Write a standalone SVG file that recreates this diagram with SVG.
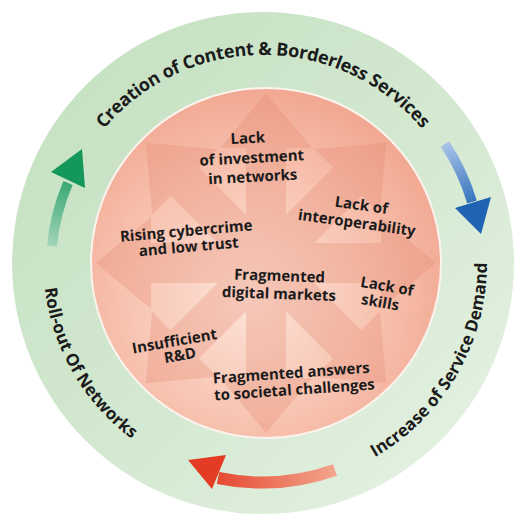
<svg xmlns="http://www.w3.org/2000/svg" width="518" height="516" viewBox="0 0 518 516">
<defs>
<linearGradient id="ringG" x1="0" y1="0" x2="1" y2="1">
<stop offset="0" stop-color="#c3dfbf"/>
<stop offset="0.5" stop-color="#d2e8cf"/>
<stop offset="1" stop-color="#e8f3e6"/>
</linearGradient>
<radialGradient id="pinkG" cx="0.45" cy="0.6" r="0.6">
<stop offset="0" stop-color="#fde3d8"/>
<stop offset="0.55" stop-color="#f8c6b4"/>
<stop offset="1" stop-color="#f2a892"/>
</radialGradient>
<linearGradient id="greenA" gradientUnits="userSpaceOnUse" x1="55" y1="245" x2="75" y2="160">
<stop offset="0" stop-color="#9fd3b6"/>
<stop offset="1" stop-color="#13985a"/>
</linearGradient>
<linearGradient id="blueA" gradientUnits="userSpaceOnUse" x1="445" y1="144" x2="478" y2="215">
<stop offset="0" stop-color="#a8c4e8"/>
<stop offset="1" stop-color="#1e63b4"/>
</linearGradient>
<linearGradient id="redA" gradientUnits="userSpaceOnUse" x1="335" y1="470" x2="200" y2="470">
<stop offset="0" stop-color="#f3a58e"/>
<stop offset="1" stop-color="#e43b24"/>
</linearGradient>
<path id="arrowShape" d="M -20,0 L -20,-115 L -46,-115 L 0,-170 L 46,-115 L 20,-115 L 20,0 Z"/>
<path id="topArc" d="M 55,263 A 208 208 0 0 1 471,263"/>
<path id="rightArc" d="M 263,487 A 224 224 0 0 0 457,151"/>
<path id="leftArc" d="M 73,153 A 219 219 0 0 0 263,482"/>
<style>
.t{font-family:"Open Sans","Liberation Sans",sans-serif;font-weight:bold;fill:#1b1b1b}
.in{font-size:15px;text-anchor:middle}
.out{font-size:18px}
</style>
</defs>
<rect width="518" height="516" fill="#ffffff"/>
<g id="ring">
<circle cx="263" cy="263" r="251" fill="url(#ringG)"/>
<circle cx="266" cy="263" r="175" fill="url(#pinkG)" stroke="#fbf3ee" stroke-width="2"/>
</g>
<g id="star" fill="#e3836a" opacity="0.27">
<use href="#arrowShape" transform="translate(266,263) rotate(0)"/>
<use href="#arrowShape" transform="translate(266,263) rotate(45)"/>
<use href="#arrowShape" transform="translate(266,263) rotate(90)"/>
<use href="#arrowShape" transform="translate(266,263) rotate(135)"/>
<use href="#arrowShape" transform="translate(266,263) rotate(180)"/>
<use href="#arrowShape" transform="translate(266,263) rotate(225)"/>
<use href="#arrowShape" transform="translate(266,263) rotate(270)"/>
<use href="#arrowShape" transform="translate(266,263) rotate(315)"/>
</g>
<g id="connectors">
<g id="arrow-green">
<path d="M 52,246 A 212 212 0 0 1 68,183" fill="none" stroke="url(#greenA)" stroke-width="10"/>
<polygon points="51,172 85,188 82,149" fill="#13985a"/>
</g>
<g id="arrow-blue">
<path d="M 445,144 A 218 218 0 0 1 472,202" fill="none" stroke="url(#blueA)" stroke-width="10"/>
<polygon points="455,208 491,197 481,234" fill="#1e63b4"/>
</g>
<g id="arrow-red">
<path d="M 335,470 A 219 219 0 0 1 218,478" fill="none" stroke="url(#redA)" stroke-width="12"/>
<polygon points="188,460 226,455 212,489" fill="#e43b24"/>
</g>
</g>
<g id="label-creation"><text class="t out"><textPath href="#topArc" startOffset="50%" text-anchor="middle" textLength="362" lengthAdjust="spacing">Creation of Content &amp; Borderless Services</textPath></text></g>
<g id="label-increase"><text class="t out" style="font-size:17px"><textPath href="#rightArc" startOffset="50%" text-anchor="middle">Increase of Service Demand</textPath></text></g>
<g id="label-rollout"><text class="t out" style="font-size:17px"><textPath href="#leftArc" startOffset="50%" text-anchor="middle">Roll-out Of Networks</textPath></text></g>
<g id="node-investment" transform="rotate(-3 252 163)"><text class="t in"><tspan x="249" y="143">Lack</tspan><tspan x="252" y="163">of investment</tspan><tspan x="252" y="182">in networks</tspan></text></g>
<g id="node-interop" transform="rotate(8 358 215)"><text class="t in"><tspan x="360" y="210">Lack of</tspan><tspan x="358" y="228">interoperability</tspan></text></g>
<g id="node-cybercrime" transform="rotate(-5 187 240)"><text class="t in"><tspan x="187" y="236">Rising cybercrime</tspan><tspan x="188" y="252">and low trust</tspan></text></g>
<g id="node-markets" transform="rotate(2 279 290)"><text class="t in"><tspan x="279" y="281">Fragmented</tspan><tspan x="279" y="299">digital markets</tspan></text></g>
<g id="node-skills" transform="rotate(10 384 298)"><text class="t in"><tspan x="385" y="291">Lack of</tspan><tspan x="381" y="308">skills</tspan></text></g>
<g id="node-rnd" transform="rotate(-10 177 350)"><text class="t in"><tspan x="176" y="346">Insufficient</tspan><tspan x="179" y="361">R&amp;D</tspan></text></g>
<g id="node-societal" transform="rotate(-4 293 385)"><text class="t in"><tspan x="292" y="378">Fragmented answers</tspan><tspan x="294" y="395">to societal challenges</tspan></text></g>
</svg>
